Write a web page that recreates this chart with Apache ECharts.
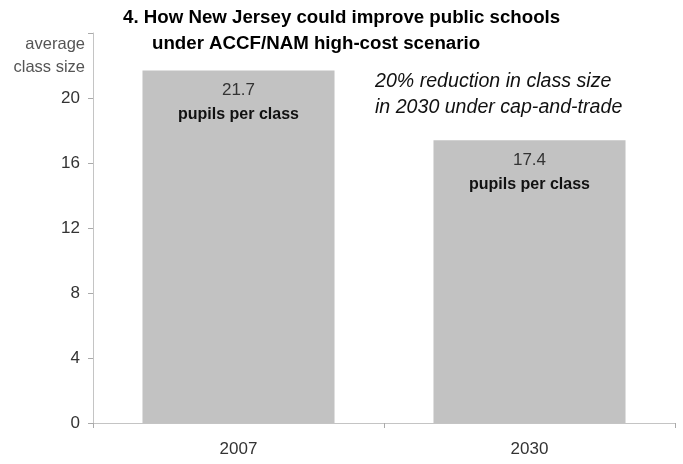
<!DOCTYPE html>
<html>
<head>
<meta charset="utf-8">
<script src="https://cdn.jsdelivr.net/npm/echarts@6/dist/echarts.min.js"></script>
<style>html,body{margin:0;padding:0;background:#fff}#c{width:683px;height:464px}</style>
</head>
<body>
<div id="c"></div>
<script>
const categories = ['2007', '2030'];
const classSize = [21.7, 17.4];
const barUnit = 'pupils per class';
const yTicks = [0, 4, 8, 12, 16, 20, 24];
const titleLines = ['4. How New Jersey could improve public schools', 'under ACCF/NAM high-cost scenario'];
const annotation = ['20% reduction in class size', 'in 2030 under cap-and-trade'];
const yName = ['average', 'class size'];

const chart = echarts.init(document.getElementById('c'), null, {renderer: 'canvas'});
const FF = 'Liberation Sans, Arial, sans-serif';
chart.setOption({
  animation: false,
  backgroundColor: '#fff',
  title: [
    {text: titleLines[0], left: 123, top: 8, padding: 0, textStyle: {fontFamily: FF, fontSize: 18.7, fontWeight: 'bold', color: '#000'}},
    {text: titleLines[1], left: 152, top: 34, padding: 0, textStyle: {fontFamily: FF, fontSize: 18.7, fontWeight: 'bold', color: '#000'}}
  ],
  graphic: [
    {type: 'text', x: 85, y: 33, style: {text: yName.join('\n'), font: '16.5px ' + FF, fill: '#555', align: 'right', lineHeight: 23}},
    {type: 'text', x: 375, y: 69, style: {text: annotation.join('\n'), font: 'italic 19.6px ' + FF, fill: '#111', lineHeight: 26}}
  ],
  grid: {left: 93, right: 8, top: 33, bottom: 41},
  xAxis: {
    type: 'category',
    data: categories,
    axisLine: {lineStyle: {color: '#c4c4c4', width: 1}},
    axisTick: {show: true, length: 5, lineStyle: {color: '#aaa'}},
    axisLabel: {fontFamily: FF, fontSize: 17, color: '#333', margin: 18}
  },
  yAxis: {
    type: 'value',
    min: yTicks[0],
    max: yTicks[yTicks.length - 1],
    interval: 4,
    axisLine: {show: true, lineStyle: {color: '#c4c4c4'}},
    axisTick: {show: true, length: 5, lineStyle: {color: '#aaa'}},
    splitLine: {show: false},
    axisLabel: {fontFamily: FF, fontSize: 17, color: '#333', margin: 13,
      formatter: v => (v === yTicks[yTicks.length - 1] ? '' : String(v))}
  },
  series: [{
    type: 'bar',
    data: classSize,
    barCategoryGap: '34%',
    itemStyle: {color: '#c2c2c2'},
    label: {
      show: true,
      position: 'insideTop',
      distance: 8,
      formatter: p => '{a|' + p.value + '}\n{b|' + barUnit + '}',
      rich: {
        a: {fontFamily: FF, fontSize: 17, color: '#333', lineHeight: 24, align: 'center'},
        b: {fontFamily: FF, fontSize: 16, fontWeight: 'bold', color: '#111', lineHeight: 24, align: 'center'}
      }
    }
  }]
});
</script>
</body>
</html>
